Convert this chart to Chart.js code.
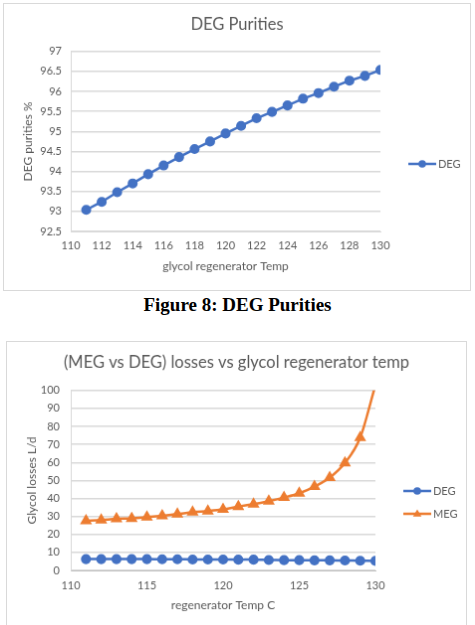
<!DOCTYPE html>
<html>
<head>
	<meta charset="utf-8">
	<title>DEG Purities</title>
	<script src="https://cdn.jsdelivr.net/npm/chart.js@4.4.0/dist/chart.umd.min.js"></script>
	<style>
		body { margin: 0; background: #fff; width: 475px; height: 625px; overflow: hidden; position: relative; }
		canvas { position: absolute; border: 1px solid #d9d9d9; }
		#purity { left: 3px; top: 3px; }
		#losses { left: 6px; top: 341px; }
		#caption { position: absolute; left: 0; top: 294px; width: 475px; text-align: center;
			font: bold 19px "Liberation Serif", "Times New Roman", serif; color: #000; }
	</style>
</head>
<body>

	<canvas id="purity" width="468" height="288"></canvas>
	<div id="caption">Figure 8: DEG Purities</div>
	<canvas id="losses" width="461" height="288"></canvas>

	<script type="text/javascript">

		// regenerator temperatures (C)
		const temps = [111, 112, 113, 114, 115, 116, 117, 118, 119, 120,
			121, 122, 123, 124, 125, 126, 127, 128, 129, 130];

		// DEG purity %
		const degPurity = [93.04, 93.24, 93.48, 93.70, 93.93, 94.15, 94.36, 94.56, 94.75, 94.95,
			95.14, 95.33, 95.49, 95.65, 95.82, 95.96, 96.12, 96.27, 96.39, 96.54];

		// glycol losses L/d
		const degLoss = [6.3, 6.3, 6.3, 6.3, 6.3, 6.2, 6.2, 6.1, 6.1, 6.1,
			6.0, 6.0, 5.8, 5.7, 5.7, 5.6, 5.6, 5.5, 5.4, 5.3];
		const megLoss = [27.6, 28.0, 28.7, 28.9, 29.6, 30.4, 31.3, 32.4, 33.0, 33.9,
			35.5, 36.8, 38.5, 40.5, 42.9, 46.6, 51.6, 59.7, 73.8, 103];

		const BLUE = '#4472C4';
		const ORANGE = '#ED7D31';
		const GREY = '#595959';
		const GRID = '#d9d9d9';
		const FONT = 'Lato, "Open Sans", sans-serif';

		const pts = ys => temps.map((t, i) => ({ x: t, y: ys[i] }));

		// legend drawn at the side, line with marker like Excel
		const sideLegend = {
			id: 'sideLegend',
			afterDraw(chart, args, opts) {
				const ctx = chart.ctx;
				ctx.save();
				chart.data.datasets.forEach((ds, i) => {
					const y = opts.y + i * opts.gap;
					const cx = opts.x + 14;
					ctx.strokeStyle = ds.borderColor;
					ctx.fillStyle = ds.borderColor;
					ctx.lineWidth = ds.borderWidth;
					ctx.beginPath();
					ctx.moveTo(opts.x, y);
					ctx.lineTo(opts.x + 28, y);
					ctx.stroke();
					const r = ds.pointRadius;
					ctx.beginPath();
					if (ds.pointStyle === 'triangle') {
						ctx.moveTo(cx, y - r);
						ctx.lineTo(cx + r * 0.95, y + r * 0.6);
						ctx.lineTo(cx - r * 0.95, y + r * 0.6);
						ctx.closePath();
					} else {
						ctx.arc(cx, y, r, 0, Math.PI * 2);
					}
					ctx.fill();
					ctx.fillStyle = GREY;
					ctx.font = '11px ' + FONT;
					ctx.textBaseline = 'middle';
					ctx.fillText(ds.label, opts.x + 30, y);
				});
				ctx.restore();
			}
		};

		function axisTitle(text, pad) {
			return { display: true, text: text, color: GREY, font: { family: FONT, size: 12 }, padding: { top: pad, bottom: 4 } };
		}

		// empty right axis keeps room for the legend without shifting the title
		function spacer(w) {
			return {
				axis: 'y', position: 'right', display: true,
				ticks: { display: false }, grid: { display: false }, border: { display: false },
				afterFit: s => { s.width = w; }
			};
		}

		new Chart(document.getElementById('purity'), {
			type: 'line',
			data: {
				datasets: [{
					label: 'DEG',
					data: pts(degPurity),
					borderColor: BLUE,
					backgroundColor: BLUE,
					pointBackgroundColor: BLUE,
					borderWidth: 2.5,
					pointRadius: 3.8,
					pointStyle: 'circle',
					tension: 0
				}]
			},
			options: {
				responsive: false,
				animation: false,
				layout: { padding: { top: 2, left: 0, right: 0, bottom: 13 } },
				plugins: {
					legend: { display: false },
					tooltip: { enabled: false },
					title: {
						display: true, text: 'DEG Purities', color: GREY,
						font: { family: FONT, size: 16.5, weight: 'normal' },
						padding: { top: 9, bottom: 17 }
					},
					sideLegend: { x: 406, y: 161, gap: 23 }
				},
				scales: {
					x: {
						type: 'linear', min: 110, max: 130,
						ticks: { stepSize: 2, color: GREY, font: { family: FONT, size: 11 }, padding: 8 },
						grid: { display: false, drawTicks: false },
						border: { color: GRID },
						title: axisTitle('glycol regenerator Temp', 4),
						afterFit: s => { s.height = 46; }
					},
					y: {
						min: 92.5, max: 97,
						ticks: { stepSize: 0.5, color: GREY, font: { family: FONT, size: 11 }, padding: 9,
							callback: v => String(v) },
						grid: { color: GRID, lineWidth: 1.5, drawTicks: false },
						border: { color: GRID },
						title: axisTitle('DEG purities %', 17),
						afterFit: s => { s.width = 67; }
					},
					pad: spacer(90)
				}
			},
			plugins: [sideLegend]
		});

		new Chart(document.getElementById('losses'), {
			type: 'line',
			data: {
				datasets: [{
					label: 'DEG',
					data: pts(degLoss),
					borderColor: BLUE,
					backgroundColor: BLUE,
					pointBackgroundColor: BLUE,
					borderWidth: 2.5,
					pointRadius: 3.8,
					pointStyle: 'circle',
					tension: 0.4
				}, {
					label: 'MEG',
					data: pts(megLoss),
					borderColor: ORANGE,
					backgroundColor: ORANGE,
					pointBackgroundColor: ORANGE,
					borderWidth: 2.5,
					pointRadius: 4.5,
					pointStyle: 'triangle',
					cubicInterpolationMode: 'monotone',
					clip: 0
				}]
			},
			options: {
				responsive: false,
				animation: false,
				layout: { padding: { top: 2, left: 0, right: 0, bottom: 12 } },
				plugins: {
					legend: { display: false },
					tooltip: { enabled: false },
					title: {
						display: true, text: '(MEG vs DEG) losses vs glycol regenerator temp', color: GREY,
						font: { family: FONT, size: 16.5, weight: 'normal' },
						padding: { top: 9, bottom: 18 }
					},
					sideLegend: { x: 398, y: 150, gap: 23 }
				},
				scales: {
					x: {
						type: 'linear', min: 110, max: 130,
						ticks: { stepSize: 5, color: GREY, font: { family: FONT, size: 11 }, padding: 9 },
						grid: { display: false, drawTicks: false },
						border: { color: '#bfbfbf' },
						title: axisTitle('regenerator Temp C', 4),
						afterFit: s => { s.height = 46; }
					},
					y: {
						min: 0, max: 100,
						ticks: { stepSize: 10, color: GREY, font: { family: FONT, size: 11 }, padding: 11 },
						grid: { color: GRID, lineWidth: 1.5, drawTicks: false },
						border: { color: GRID },
						title: axisTitle('Glycol losses L/d', 18),
						afterFit: s => { s.width = 64; }
					},
					pad: spacer(91)
				}
			},
			plugins: [sideLegend]
		});

	</script>

</body>
</html>
